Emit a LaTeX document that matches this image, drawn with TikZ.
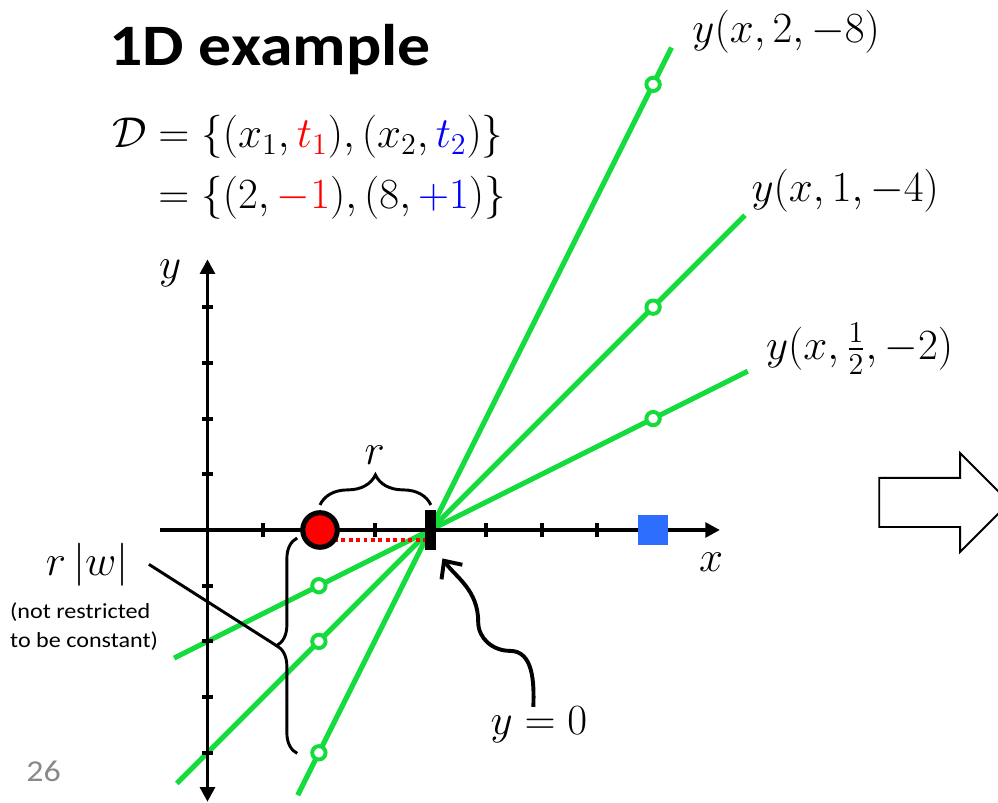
\RequirePackage{fix-cm}
\documentclass[tikz,border=0pt]{standalone}
\usepackage{amsmath}
\usepackage{fontspec}
\newfontfamily\slidefont[FakeStretch=1.12]{Carlito}
\usepackage{tikz}
\usetikzlibrary{arrows.meta,decorations.pathreplacing}

\definecolor{fitgreen}{RGB}{20,220,60}
\definecolor{sqblue}{RGB}{45,110,255}
\definecolor{pagegray}{RGB}{137,137,137}

\begin{document}
\begin{tikzpicture}[every node/.style={font=\fontsize{22}{28}\selectfont, inner sep=0pt},
    fitline/.style={fitgreen, line width=2.6pt},
    fitpt/.style={circle, draw=fitgreen, fill=white, line width=2pt, minimum size=0.24cm},
    axis/.style={line width=2pt},
    curly/.style={decorate, line width=1.5pt}]
    \useasboundingbox (-3.725,-4.901) rectangle (14.192,9.515);

    % Title and data set
    \node[anchor=base west, font=\slidefont\bfseries\fontsize{30}{36}\selectfont] (title) at (-1.77,8.33) {1D example};
    \node[anchor=base west] (data) at (-1.72,6.86) {$\begin{aligned}[t]
        \mathcal{D} &= \{(x_1,\textcolor{red}{t_1}),(x_2,\textcolor{blue}{t_2})\}\\
        &= \{(2,\textcolor{red}{-1}),(8,\textcolor{blue}{+1})\}
        \end{aligned}$};

    % Lines y(x,w,b)
    \draw[fitline] (1.62,-4.76) -- (8.33,8.66);
    \draw[fitline] (-0.55,-4.55) -- (9.65,5.65);
    \draw[fitline] (-0.6,-2.3) -- (9.7,2.85);

    % Axes
    \draw[axis, -{Triangle[length=7.5pt,width=7.5pt]}] (-0.85,0) -- (9.2,0);
    \draw[axis, {Triangle[length=7.5pt,width=7.5pt]}-{Triangle[length=7.5pt,width=7.5pt]}] (0,-4.88) -- (0,4.86);
    \foreach \i in {1,...,8}
        \draw[axis] (\i,-0.125) -- (\i,0.125);
    \foreach \i in {-4,-3,-2,-1,1,2,3,4}
        \draw[axis] (-0.1,\i) -- (0.1,\i);
    \node[anchor=base] (xlbl) at (9.04,-0.75) {$x$};
    \node[anchor=base] (ylbl) at (-0.67,4.52) {$y$};

    % Data points
    \draw[red, line width=2.4pt, dash pattern=on 2pt off 1.8pt] (2,-0.18) -- (4,-0.18);
    \node[circle, draw=black, fill=red, line width=2.6pt, minimum size=0.62cm] (neg) at (2.02,0) {};
    \node[fill=black, minimum width=0.2cm, minimum height=0.72cm] (zero) at (4.01,0) {};
    \node[fill=sqblue, minimum size=0.54cm] (pos) at (8,0) {};

    % Points on the lines
    \node[fitpt] (a2) at (2,-4) {};
    \node[fitpt] (a8) at (8,8) {};
    \node[fitpt] (b2) at (2,-2) {};
    \node[fitpt] (b8) at (8,4) {};
    \node[fitpt] (c2) at (2,-1) {};
    \node[fitpt] (c8) at (8,2) {};

    \node[anchor=base west] (alab) at (8.70,8.76) {$y(x,2,-8)$};
    \node[anchor=base west] (blab) at (9.76,5.90) {$y(x,1,-4)$};
    \node[anchor=base west] (clab) at (10.02,3.06) {$y(x,\frac{1}{2},-2)$};

    % Margin r and r|w|
    \draw[curly, decoration={brace, amplitude=0.54cm}] (2.02,0.45) -- (4.01,0.45);
    \node[anchor=base] (rlbl) at (3.0,1.17) {$r$};
    \draw[curly, decoration={brace, amplitude=0.37cm}] (1.61,-4.01) -- (1.61,-0.144)
        coordinate[midway, xshift=-0.37cm] (bracetip);
    \node[anchor=base, inner xsep=0.36cm] (rw) at (-2.16,-0.81) {$r\left|w\right|$};
    \draw[line width=1.5pt] (rw.east) -- (bracetip);
    \node[anchor=west, align=left, font=\slidefont\fontsize{11}{14.8}\selectfont] (note) at (-3.55,-1.74) {(not restricted\\to be constant)};

    % y = 0
    \node[anchor=base] (yzero) at (5.95,-3.68) {$y=0$};
    \draw[line width=2pt, -{Straight Barb[length=7pt,width=13pt]}, shorten >=5pt]
        ([xshift=-0.1cm]yzero.north) to[out=88,in=0] (5.43,-2.17)
        to[out=180,in=-90] (4.86,-1.65) to[out=90,in=-55] (zero.south east);

    % Outline arrow
    \draw[line width=1pt] (12.06,0.934) -- (13.51,0.934) -- (13.51,1.38) -- (14.40,0.494)
        -- (13.51,-0.395) -- (13.51,0.054) -- (12.06,0.054) -- cycle;

    \node[anchor=base west, text=pagegray, font=\slidefont\fontsize{15.5}{19}\selectfont] (page) at (-3.26,-4.52) {26};
\end{tikzpicture}
\end{document}
